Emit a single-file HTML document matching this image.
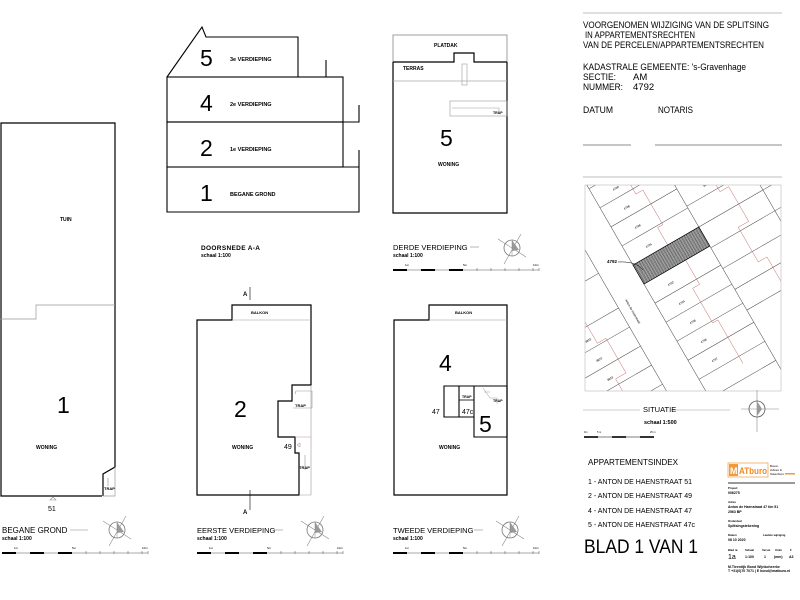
<!DOCTYPE html>
<html><head><meta charset="utf-8"><style>
html,body{margin:0;padding:0;background:#fff}
svg{display:block}
text{font-family:"Liberation Sans",sans-serif;fill:#000}
.s{font-size:5px;font-weight:bold}
.big{font-size:23px}
.t{font-size:8px}
.h{font-size:9.5px}
</style></head><body>
<svg width="800" height="600" viewBox="0 0 800 600" xmlns="http://www.w3.org/2000/svg">
<defs>
<g id="np">
<line x1="-14" y1="-9" x2="14" y2="9" stroke="#888" stroke-width="0.6"/>
<line x1="-8" y1="16" x2="9" y2="-14" stroke="#888" stroke-width="0.6"/>
<circle r="8" fill="none" stroke="#777" stroke-width="0.8"/>
<path d="M0,-8 L7,2 L0,3 Z" fill="#999"/>
<line x1="0" y1="-8" x2="0" y2="8" stroke="#888" stroke-width="0.5"/>
</g>
<g id="sb">
<line x1="0" y1="0" x2="146" y2="0" stroke="#555" stroke-width="0.6"/>
<rect x="0" y="-1" width="14" height="2" fill="#000"/>
<rect x="28" y="-1" width="14" height="2" fill="#000"/>
<rect x="56" y="-1" width="14" height="2" fill="#000"/>
<g stroke="#555" stroke-width="0.5"><line x1="84" y1="-2" x2="84" y2="1"/><line x1="98" y1="-2" x2="98" y2="1"/><line x1="112" y1="-2" x2="112" y2="1"/><line x1="126" y1="-2" x2="126" y2="1"/><line x1="140" y1="-2" x2="140" y2="1"/><line x1="146" y1="-2" x2="146" y2="1"/></g>
<text x="12" y="-4" style="font-size:3px">1m</text><text x="70" y="-4" style="font-size:3px">5m</text><text x="140" y="-4" style="font-size:3px">10m</text>
</g>
<pattern id="hat" width="2" height="2" patternUnits="userSpaceOnUse"><rect width="2" height="2" fill="#bbb"/><path d="M0,2 L2,0" stroke="#333" stroke-width="0.6"/></pattern>
<clipPath id="mc"><rect x="585" y="185" width="196" height="206"/></clipPath>
</defs>

<!-- BEGANE GROND -->
<g fill="none" stroke="#000" stroke-width="1.2">
<path d="M102,496 L1,496 L1,123 L115,123 L115,467 L103,474 L103,496"/>
</g>
<g fill="none" stroke="#999" stroke-width="0.7">
<path d="M115,305 L36,305 L36,319 L0,319"/>
<path d="M115,467 L115,496 L103,496"/>
<line x1="108" y1="478" x2="108" y2="486"/>
</g>
<text x="60" y="221" class="s">TUIN</text>
<text x="57" y="413" class="big">1</text>
<text x="36" y="449" class="s">WONING</text>
<text x="104" y="490" class="s" style="font-size:4px">TRAP</text>
<path d="M50,500 l3,-3 l3,3 z" fill="none" stroke="#888" stroke-width="0.6"/>
<text x="48" y="511" style="font-size:7px">51</text>
<text x="2" y="533" style="font-size:8px">BEGANE GROND</text>
<line x1="70" y1="530" x2="88" y2="530" stroke="#888" stroke-width="0.6"/>
<text x="2" y="540" class="s">schaal 1:100</text>
<use href="#sb" x="2" y="553"/>
<use href="#np" x="117" y="530"/>

<!-- DOORSNEDE -->
<g fill="none" stroke="#000" stroke-width="1.1">
<path d="M167,77 L202,27 L206,37 L298,37 L298,77"/>
<rect x="167" y="77" width="176" height="45"/>
<rect x="167" y="122" width="176" height="45"/>
<path d="M167,167 L359,167 L359,212 L167,212 Z"/>
<line x1="326" y1="60" x2="326" y2="77"/>
<path d="M343,122 L359,122 L359,105"/>
<line x1="359" y1="150" x2="359" y2="167"/>
</g>
<text x="200" y="66" class="big">5</text><text x="230" y="61" class="s" style="font-size:5.5px">3e VERDIEPING</text>
<text x="200" y="111" class="big">4</text><text x="230" y="106" class="s" style="font-size:5.5px">2e VERDIEPING</text>
<text x="200" y="156" class="big">2</text><text x="230" y="151" class="s" style="font-size:5.5px">1e VERDIEPING</text>
<text x="200" y="201" class="big">1</text><text x="230" y="196" class="s" style="font-size:5.5px">BEGANE GROND</text>
<text x="201" y="250" style="font-size:6.5px;font-weight:bold" textLength="59">DOORSNEDE A-A</text>
<text x="201" y="257" class="s">schaal 1:100</text>

<!-- DERDE -->
<rect x="393" y="35" width="114" height="178" fill="none" stroke="#777" stroke-width="0.7"/>
<path d="M393,62 L454,62 L454,53 L474,53 L474,62 L507,62 M393,62 L393,213 L507,213 L507,62" fill="none" stroke="#000" stroke-width="1.2"/>
<line x1="393" y1="81" x2="507" y2="81" stroke="#aaa" stroke-width="0.7"/>
<rect x="462" y="64" width="5" height="21" fill="none" stroke="#aaa" stroke-width="0.7"/>
<rect x="450" y="101" width="57" height="15" fill="none" stroke="#999" stroke-width="0.6"/>
<line x1="452" y1="108" x2="499" y2="108" stroke="#999" stroke-width="0.6"/><line x1="499" y1="108" x2="499" y2="113" stroke="#999" stroke-width="0.6"/>
<text x="493" y="114" class="s" style="font-size:3.5px">TRAP</text>
<text x="434" y="47" class="s">PLATDAK</text>
<text x="403" y="70" class="s">TERRAS</text>
<text x="440" y="146" class="big">5</text>
<text x="438" y="166" class="s">WONING</text>
<text x="393" y="250" style="font-size:7.5px">DERDE VERDIEPING</text>
<line x1="470" y1="247" x2="479" y2="247" stroke="#888" stroke-width="0.6"/>
<text x="393" y="257" class="s">schaal 1:100</text>
<use href="#sb" x="393" y="270"/>
<use href="#np" x="512" y="248"/>

<!-- EERSTE -->
<path d="M197,320 L232,320 L232,305 L311,305 L311,385 L292,385 L292,401 L278,401 L278,437 L295,437 L295,453 L299,453 L299,495 L197,495 Z" fill="none" stroke="#000" stroke-width="1.2"/>
<g fill="none" stroke="#999" stroke-width="0.6">
<line x1="232" y1="320" x2="311" y2="320"/>
<path d="M311,385 L311,495 L299,495"/>
<path d="M295,394 L296,391 L312,391 L312,408 L293,408"/>
<line x1="295" y1="437" x2="311" y2="437" stroke="#c9c"/>
<line x1="305" y1="455" x2="305" y2="470"/>
</g>
<text x="251" y="314" class="s" style="font-size:4px">BALKON</text>
<text x="295" y="407" class="s" style="font-size:4px">TRAP</text>
<text x="299" y="469" class="s" style="font-size:4px">TRAP</text>
<text x="234" y="417" class="big">2</text>
<text x="232" y="449" class="s">WONING</text>
<text x="284" y="449" style="font-size:7px">49</text>
<path d="M297,445 l3,-2 l0,4 z" fill="none" stroke="#888" stroke-width="0.5"/>
<line x1="250" y1="287" x2="250" y2="300" stroke="#000" stroke-width="0.6"/>
<line x1="250" y1="490" x2="250" y2="510" stroke="#000" stroke-width="0.6"/>
<text x="243" y="296" class="s" style="font-size:6px">A</text>
<text x="243" y="514" class="s" style="font-size:6px">A</text>
<text x="197" y="533" style="font-size:7.5px">EERSTE VERDIEPING</text>
<line x1="274" y1="530" x2="283" y2="530" stroke="#888" stroke-width="0.6"/>
<text x="197" y="540" class="s">schaal 1:100</text>
<use href="#sb" x="197" y="553"/>
<use href="#np" x="315" y="530"/>

<!-- TWEEDE -->
<path d="M394,320 L429,320 L429,305 L507,305 L507,495 L394,495 Z" fill="none" stroke="#000" stroke-width="1.2"/>
<line x1="429" y1="320" x2="507" y2="320" stroke="#999" stroke-width="0.6"/>
<path d="M444,386 L507,386 L507,437 L474,437 L474,417 L444,417 Z M474,386 L474,417 M459,405 L459,417 L474,417 M459,386 L459,405" fill="none" stroke="#000" stroke-width="1.1"/>
<line x1="459" y1="400" x2="474" y2="400" stroke="#000" stroke-width="0.8"/>
<path d="M483,388 L490,398 L497,398 L497,404 M490,392 L484,392" fill="none" stroke="#999" stroke-width="0.5"/>
<text x="462" y="398" class="s" style="font-size:3.5px">TRAP</text>
<text x="493" y="402" class="s" style="font-size:3.5px">TRAP</text>
<text x="455" y="314" class="s" style="font-size:4px">BALKON</text>
<text x="439" y="371" class="big">4</text>
<text x="432" y="414" style="font-size:7px">47</text>
<text x="462" y="414" style="font-size:7px">47c</text>
<text x="479" y="432" class="big">5</text>
<text x="439" y="449" class="s">WONING</text>
<text x="393" y="533" style="font-size:7.5px">TWEEDE VERDIEPING</text>
<line x1="474" y1="530" x2="483" y2="530" stroke="#888" stroke-width="0.6"/>
<text x="393" y="540" class="s">schaal 1:100</text>
<use href="#sb" x="393" y="553"/>
<use href="#np" x="510" y="530"/>

<!-- RIGHT PANEL -->
<line x1="583" y1="13" x2="782" y2="13" stroke="#aaa" stroke-width="0.8"/>
<text x="583" y="28" class="h" textLength="186" lengthAdjust="spacingAndGlyphs">VOORGENOMEN WIJZIGING VAN DE SPLITSING</text>
<text x="585" y="38" class="h" textLength="110" lengthAdjust="spacingAndGlyphs">IN APPARTEMENTSRECHTEN</text>
<text x="583" y="48" class="h" textLength="181" lengthAdjust="spacingAndGlyphs">VAN DE PERCELEN/APPARTEMENTSRECHTEN</text>
<text x="583" y="70" class="h" textLength="163" lengthAdjust="spacingAndGlyphs">KADASTRALE GEMEENTE: 's-Gravenhage</text>
<text x="583" y="80" class="h" textLength="33" lengthAdjust="spacingAndGlyphs">SECTIE:</text><text x="633" y="80" class="h">AM</text>
<text x="583" y="90" class="h" textLength="40" lengthAdjust="spacingAndGlyphs">NUMMER:</text><text x="633" y="90" class="h">4792</text>
<text x="583" y="113" class="h" textLength="30" lengthAdjust="spacingAndGlyphs">DATUM</text><text x="658" y="113" class="h" textLength="35" lengthAdjust="spacingAndGlyphs">NOTARIS</text>
<line x1="583" y1="145" x2="631" y2="145" stroke="#666" stroke-width="0.7"/>
<line x1="655" y1="145" x2="782" y2="145" stroke="#666" stroke-width="0.7"/>
<line x1="583" y1="177" x2="782" y2="177" stroke="#aaa" stroke-width="0.8"/>

<!-- map -->
<g clip-path="url(#mc)">
<g transform="translate(633,265) rotate(-30)">
<g stroke="#444" stroke-width="0.5" fill="none">
<line x1="0" y1="-200" x2="0" y2="200"/>
<line x1="-34" y1="-200" x2="-34" y2="200"/>
<line x1="76" y1="-200" x2="76" y2="200"/>
<line x1="150" y1="-200" x2="150" y2="200"/>
<line x1="0" y1="-132" x2="76" y2="-132"/><line x1="0" y1="-110" x2="76" y2="-110"/><line x1="0" y1="-88" x2="76" y2="-88"/><line x1="0" y1="-66" x2="76" y2="-66"/><line x1="0" y1="-44" x2="76" y2="-44"/><line x1="0" y1="-22" x2="76" y2="-22"/><line x1="0" y1="22" x2="76" y2="22"/><line x1="0" y1="44" x2="76" y2="44"/><line x1="0" y1="66" x2="76" y2="66"/><line x1="0" y1="88" x2="76" y2="88"/><line x1="0" y1="110" x2="76" y2="110"/><line x1="0" y1="132" x2="76" y2="132"/><line x1="0" y1="154" x2="76" y2="154"/>
<line x1="76" y1="-120" x2="160" y2="-120"/><line x1="76" y1="-96" x2="160" y2="-96"/><line x1="76" y1="-72" x2="160" y2="-72"/><line x1="76" y1="-48" x2="160" y2="-48"/><line x1="76" y1="-24" x2="160" y2="-24"/><line x1="76" y1="0" x2="160" y2="0"/><line x1="76" y1="24" x2="160" y2="24"/><line x1="76" y1="48" x2="160" y2="48"/><line x1="76" y1="72" x2="160" y2="72"/><line x1="76" y1="96" x2="160" y2="96"/>
<line x1="-34" y1="30" x2="-120" y2="30"/><line x1="-34" y1="52" x2="-120" y2="52"/><line x1="-34" y1="74" x2="-120" y2="74"/><line x1="-34" y1="96" x2="-120" y2="96"/><line x1="-34" y1="118" x2="-120" y2="118"/><line x1="-34" y1="140" x2="-120" y2="140"/><line x1="-34" y1="162" x2="-120" y2="162"/><line x1="-34" y1="-10" x2="-120" y2="-10"/>
</g>
<g stroke="#b55" stroke-width="0.4" fill="none">
<path d="M38,-140 L38,-120 L44,-120 L44,-90 L38,-90 L38,-60 L46,-60 L46,-20 L40,-20 L40,10 L48,10 L48,50 L40,50 L40,90 L46,90 L46,140"/>
<path d="M110,-130 L110,-100 L120,-100 L120,-60 L112,-60 L112,-20 L122,-20 L122,20 L110,20 L110,60 L120,60 L120,100"/>
<path d="M-70,20 L-70,50 L-60,50 L-60,90 L-72,90 L-72,130 L-62,130 L-62,170"/>
</g>
<rect x="0" y="0" width="76" height="22" fill="url(#hat)" stroke="#000" stroke-width="0.7"/>
<g style="font-size:3px" fill="#555">
<text x="20" y="-8">4794</text><text x="20" y="-30">4796</text><text x="20" y="-52">4798</text><text x="20" y="-74">4799</text><text x="20" y="36">4792</text><text x="20" y="58">4794</text><text x="20" y="80">4796</text><text x="20" y="102">4796</text><text x="20" y="124">4797</text>
<text x="-80" y="44">3822</text><text x="-80" y="66">3822</text><text x="-80" y="88">3823</text><text x="-80" y="110">3824</text><text x="-80" y="132">3825</text>
<text x="100" y="-80">3496</text><text x="100" y="-56">3497</text><text x="100" y="-32">3498</text>
</g>
</g>
</g>
<rect x="585" y="185" width="196" height="206" fill="none" stroke="#bbb" stroke-width="0.6"/>
<text x="607" y="263" class="s" style="font-size:4.5px">4792</text>
<path d="M618,262 Q636,261 643,270" fill="none" stroke="#000" stroke-width="0.5"/>
<text x="625" y="300" style="font-size:3px" fill="#333" transform="rotate(60 625 300)">Anton de Haenstraat</text>

<line x1="583" y1="410" x2="640" y2="410" stroke="#999" stroke-width="0.6"/>
<line x1="671" y1="410" x2="730" y2="410" stroke="#999" stroke-width="0.6"/>
<text x="643" y="412" style="font-size:7.5px">SITUATIE</text>
<text x="644" y="424" class="s" style="font-size:5.5px">schaal 1:500</text>
<g stroke="#888" stroke-width="0.6"><line x1="741" y1="409" x2="779" y2="409"/><line x1="757" y1="390" x2="757" y2="432"/></g>
<circle cx="757" cy="409" r="8" fill="none" stroke="#555" stroke-width="0.8"/>
<path d="M757,401 L762,409 L757,416 Z" fill="#999"/>
<line x1="584" y1="437" x2="654" y2="437" stroke="#999" stroke-width="1.2"/>
<g fill="#333"><rect x="584" y="436" width="14" height="2"/><rect x="612" y="436" width="14" height="2"/><rect x="640" y="436" width="14" height="2"/></g>
<text x="584" y="433" style="font-size:2.5px">0m</text><text x="597" y="433" style="font-size:2.5px">5 m</text><text x="650" y="433" style="font-size:2.5px">25 m</text>

<text x="588" y="465" style="font-size:8.5px" textLength="90" lengthAdjust="spacingAndGlyphs">APPARTEMENTSINDEX</text>
<text x="588" y="484" style="font-size:7px" textLength="104" lengthAdjust="spacingAndGlyphs">1 - ANTON DE HAENSTRAAT 51</text>
<text x="588" y="498" style="font-size:7px" textLength="104" lengthAdjust="spacingAndGlyphs">2 - ANTON DE HAENSTRAAT 49</text>
<text x="588" y="513" style="font-size:7px" textLength="104" lengthAdjust="spacingAndGlyphs">4 - ANTON DE HAENSTRAAT 47</text>
<text x="588" y="527" style="font-size:7px" textLength="107" lengthAdjust="spacingAndGlyphs">5 - ANTON DE HAENSTRAAT 47c</text>
<text x="584" y="553" style="font-size:19px" textLength="114" lengthAdjust="spacingAndGlyphs">BLAD 1 VAN 1</text>

<!-- logo block -->
<rect x="728" y="463" width="40" height="14" fill="#fff" stroke="#f29a3a" stroke-width="0.7"/>
<rect x="729" y="464" width="9" height="12" fill="#f29a3a"/>
<text x="730" y="474" style="font-size:9px;font-weight:bold;fill:#fff">M</text>
<text x="739" y="474" style="font-size:9px;font-weight:bold;fill:#f08a20" textLength="28" lengthAdjust="spacingAndGlyphs">ATburo</text>
<text x="770" y="467" style="font-size:3px" fill="#999">Bouw-</text>
<text x="770" y="471" style="font-size:3px" fill="#999">Advies &amp;</text>
<text x="770" y="475" style="font-size:3px" fill="#999">Tekenburo</text>
<rect x="785" y="473" width="10" height="1.5" fill="#f29a3a"/>
<rect x="728" y="482" width="67" height="2" fill="#999"/>
<g style="font-size:3.5px;font-weight:bold">
<text x="728" y="489" style="font-size:2.8px">Project</text>
<text x="728" y="494">006275</text>
<text x="728" y="503" style="font-size:2.8px">Adres</text>
<text x="728" y="508">Anton de Haenstraat 47 t/m 51</text>
<text x="728" y="513">2563 BP</text>
<text x="728" y="522" style="font-size:2.8px">Onderdeel</text>
<text x="728" y="527">Splitsingstekening</text>
<text x="728" y="536" style="font-size:2.8px">Datum</text>
<text x="763" y="536" style="font-size:2.8px">Laatste wijziging</text>
<text x="728" y="541">08 10 2020</text>
<text x="728" y="551" style="font-size:2.8px">Blad nr.</text>
<text x="745" y="551" style="font-size:2.8px">Schaal</text><text x="762" y="551" style="font-size:2.8px">Versie</text><text x="775" y="551" style="font-size:2.8px">Units</text><text x="790" y="551" style="font-size:2.8px">F</text>
<text x="728" y="559" style="font-size:7px;font-weight:normal">1a</text>
<text x="745" y="558">1:100</text><text x="764" y="558">1</text><text x="774" y="558">(mm)</text><text x="789" y="558">A3</text>
<text x="728" y="568">M.Tieerdijk Bond Wijnkoheerke</text>
<text x="728" y="572">T +31(0)70 7071  |  E bond@matburo.nl</text>
</g>
</svg>
</body></html>
